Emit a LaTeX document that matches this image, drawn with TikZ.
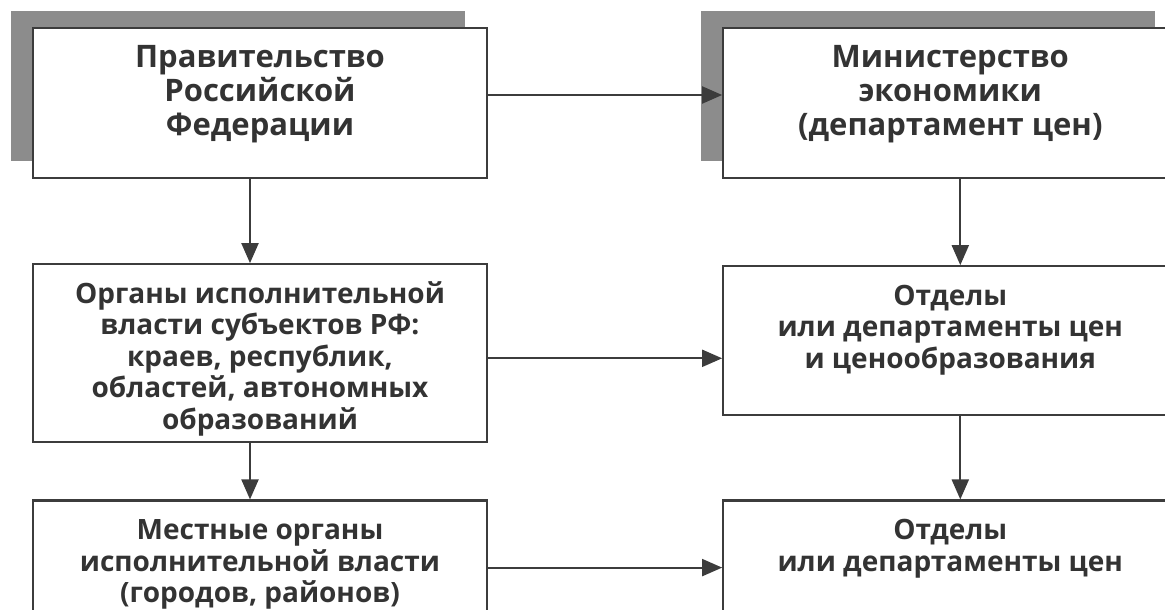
\documentclass[tikz,border=0pt]{standalone}
\usepackage{fontspec}
\setmainfont{Open Sans}
\usepackage{tikz}
\usetikzlibrary{arrows.meta, positioning, shadows}
\definecolor{myink}{HTML}{333333}
\definecolor{myline}{HTML}{3C3C3C}
\definecolor{myshade}{HTML}{8C8C8C}

% box contents: fixed height, first baseline 39pt below the top
\newcommand{\boxtext}[2]{\parbox[c][#1][t]{440pt}{\centering\rule{0pt}{39pt}#2}}

\begin{document}
\begin{tikzpicture}[node distance=84pt, >={Triangle[length=20pt,width=17pt]},
    text=myink,
    blk/.style={draw=myline, line width=2.3pt, fill=white, inner sep=0pt, minimum width=454pt,
        font=\fontsize{28}{31.5}\selectfont\bfseries},
    topblk/.style={blk, font=\fontsize{31}{34.5}\selectfont\bfseries,
        drop shadow={shadow xshift=-22pt, shadow yshift=17pt, fill=myshade, opacity=1}},
    link/.style={->, draw=myline, line width=2pt}]
    \useasboundingbox (0,0) rectangle (1165pt,-610pt);
    \node[topblk] (gov) at (260pt,-103pt) {\boxtext{150pt}{%
        Правительство\\
        Российской\\
        Федерации}};
    \node[topblk, right=234pt of gov] (minec) {\boxtext{150pt}{%
        Министерство\\
        экономики\\
        (департамент цен)}};
    \node[blk, below=84pt of gov] (regorg) {\boxtext{178pt}{%
        Органы исполнительной\\
        власти субъектов РФ:\\
        краев, республик,\\
        областей, автономных\\
        образований}};
    \node[blk, below=86pt of minec] (regdep) {\boxtext{149pt}{%
        Отделы\\
        или департаменты цен\\
        и ценообразования}};
    \node[blk, below=56pt of regorg] (locorg) {\boxtext{150pt}{%
        Местные органы\\
        исполнительной власти\\
        (городов, районов)}};
    \node[blk, below=83pt of regdep] (locdep) {\boxtext{150pt}{%
        Отделы\\
        или департаменты цен}};
    \draw[link] ([yshift=8pt]gov.east) -- ([yshift=8pt]gov.east -| minec.west);
    \draw[link] ([yshift=-5pt]regorg.east) -- ([yshift=-5pt]regorg.east -| regdep.west);
    \draw[link] ([yshift=8pt]locorg.east) -- ([yshift=8pt]locorg.east -| locdep.west);
    \draw[link] ([xshift=-10pt]gov.south) -- ([xshift=-10pt]regorg.north);
    \draw[link] ([xshift=-10pt]regorg.south) -- ([xshift=-10pt]locorg.north);
    \draw[link] ([xshift=10pt]minec.south) -- ([xshift=10pt]regdep.north);
    \draw[link] ([xshift=10pt]regdep.south) -- ([xshift=10pt]locdep.north);
\end{tikzpicture}
\end{document}
